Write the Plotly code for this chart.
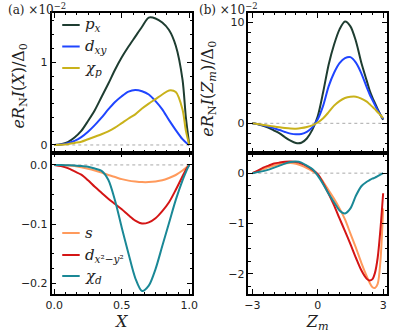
import plotly.graph_objects as go

# ---------------- data ----------------
# panel (a): current vs X (x 1e-2 for top row)
X = [0.0, 0.05, 0.10, 0.15, 0.20, 0.25, 0.30, 0.35, 0.40, 0.45, 0.50, 0.55,
     0.60, 0.65, 0.70, 0.75, 0.80, 0.85, 0.90, 0.95, 0.975, 1.0]

px_X = [0, 0.01, 0.035, 0.09, 0.17, 0.29, 0.42, 0.58, 0.74, 0.91, 1.06, 1.19,
        1.31, 1.43, 1.54, 1.53, 1.48, 1.39, 1.20, 0.79, 0.33, 0]
dxy_X = [0, 0.005, 0.02, 0.05, 0.095, 0.16, 0.24, 0.33, 0.43, 0.52, 0.59, 0.645,
         0.665, 0.65, 0.61, 0.53, 0.43, 0.30, 0.18, 0.07, 0.03, 0]
chip_X = [0, 0.003, 0.01, 0.025, 0.04, 0.07, 0.10, 0.13, 0.165, 0.21, 0.265, 0.32,
          0.37, 0.44, 0.50, 0.555, 0.61, 0.66, 0.64, 0.43, 0.17, 0]

s_X = [0, -0.0002, -0.001, -0.002, -0.004, -0.0065, -0.0095, -0.013, -0.017, -0.0205,
       -0.024, -0.0265, -0.028, -0.029, -0.029, -0.028, -0.026, -0.022, -0.017, -0.0095,
       -0.005, 0]
dx2y2_X = [0, -0.002, -0.0055, -0.011, -0.0165, -0.026, -0.037, -0.047, -0.057, -0.066,
           -0.075, -0.085, -0.094, -0.099, -0.097, -0.090, -0.078, -0.063, -0.042, -0.019,
           -0.008, 0]
chid_X = [0, 0, -0.0005, -0.001, -0.002, -0.003, -0.006, -0.010, -0.025, -0.060,
          -0.106, -0.150, -0.191, -0.213, -0.204, -0.176, -0.137, -0.098, -0.059, -0.026,
          -0.012, 0]

# panel (b): current vs Z_m (x 1e-2 for top row)
Zm = [-3.0, -2.75, -2.5, -2.25, -2.0, -1.75, -1.5, -1.25, -1.0, -0.75, -0.5, -0.25,
      0.0, 0.25, 0.5, 0.75, 1.0, 1.25, 1.5, 1.75, 2.0, 2.25, 2.375, 2.5, 2.625, 2.75,
      2.875, 3.0]

px_Z = [0, -0.1, -0.25, -0.45, -0.72, -1.0, -1.38, -1.72, -1.95, -1.92, -1.5, -0.65,
        0.7, 3.1, 5.8, 7.8, 9.3, 10.07, 9.6, 8.15, 6.0, 4.2, 3.3, 2.6, 2.0, 1.4,
        0.85, 0.35]
dxy_Z = [0, -0.08, -0.2, -0.33, -0.5, -0.67, -0.86, -1.02, -1.09, -1.05, -0.84, -0.4,
         0.4, 1.75, 3.65, 5.0, 5.95, 6.45, 6.55, 6.0, 4.95, 3.55, 2.9, 2.35, 1.8, 1.3,
         0.85, 0.42]
chip_Z = [0, -0.07, -0.16, -0.24, -0.32, -0.4, -0.47, -0.52, -0.53, -0.47, -0.36, -0.2,
          0.08, 0.5, 1.1, 1.75, 2.2, 2.5, 2.62, 2.63, 2.45, 2.15, 1.9, 1.65, 1.4, 1.1,
          0.82, 0.52]

s_Z = [0, 0.04, 0.08, 0.12, 0.15, 0.18, 0.195, 0.2, 0.185, 0.15, 0.1, 0.04,
       -0.03, -0.17, -0.34, -0.51, -0.7, -0.92, -1.2, -1.48, -1.78, -2.05, -2.17, -2.26,
       -2.28, -2.2, -1.75, -0.7]
dx2y2_Z = [0, 0.05, 0.11, 0.15, 0.19, 0.21, 0.225, 0.23, 0.22, 0.19, 0.14, 0.07,
           -0.02, -0.2, -0.41, -0.64, -0.9, -1.15, -1.41, -1.68, -1.93, -2.1, -2.13, -2.11,
           -1.98, -1.68, -1.12, -0.4]
chid_Z = [0, 0.02, 0.04, 0.07, 0.11, 0.15, 0.19, 0.22, 0.23, 0.21, 0.15, 0.08,
          -0.05, -0.22, -0.41, -0.58, -0.74, -0.8, -0.7, -0.45, -0.26, -0.17, -0.14, -0.11,
          -0.09, -0.06, -0.03, 0]

top_names = ["<i>p</i><sub><i>x</i></sub>", "<i>d</i><sub><i>xy</i></sub>",
             "<i>χ</i><sub><i>p</i></sub>"]
bot_names = ["<i>s</i>", "<i>d</i><sub><i>x</i>²−<i>y</i>²</sub>",
             "<i>χ</i><sub><i>d</i></sub>"]
top_colors = ["#1e3d31", "#1f45ff", "#c9b21b"]
bot_colors = ["#ff9a5c", "#d41515", "#1a8896"]

# tick labels
xt_a = [0, 0.5, 1.0]
xt_a_txt = ["0.0", "0.5", "1.0"]
xt_b = [-3, 0, 3]
xt_b_txt = ["−3", "0", "3"]
yt_a_top = [0, 1]
yt_a_top_txt = ["0", "1"]
yt_a_bot = [0, -0.1, -0.2]
yt_a_bot_txt = ["0.0", "−0.1", "−0.2"]
yt_b_top = [0, 10]
yt_b_top_txt = ["0", "10"]
yt_b_bot = [0, -1, -2]
yt_b_bot_txt = ["0", "−1", "−2"]

# ---------------- figure ----------------
W, H = 395, 335
def px(x):
    return x / W
def py(y):
    return 1 - y / H

fig = go.Figure()

def add_set(xs, ys_list, names, colors, xa, ya):
    # zero reference line
    fig.add_trace(go.Scatter(x=[xs[0], xs[-1]], y=[0, 0], mode="lines",
                             line=dict(color="#a8a8a8", width=1, dash="dot"),
                             xaxis=xa, yaxis=ya, showlegend=False, hoverinfo="skip"))
    for ys, nm, c in zip(ys_list, names, colors):
        fig.add_trace(go.Scatter(x=xs, y=ys, mode="lines", name=nm,
                                 line=dict(color=c, width=2, shape="spline", smoothing=0.8),
                                 xaxis=xa, yaxis=ya, showlegend=False))

add_set(X, [px_X, dxy_X, chip_X], top_names, top_colors, "x", "y")
add_set(X, [s_X, dx2y2_X, chid_X], bot_names, bot_colors, "x2", "y2")
add_set(Zm, [px_Z, dxy_Z, chip_Z], top_names, top_colors, "x3", "y3")
add_set(Zm, [s_Z, dx2y2_Z, chid_Z], bot_names, bot_colors, "x4", "y4")

tickfont = dict(family="DejaVu Sans", size=11, color="#222222")
serif = "DejaVu Serif"

def ax(domain, rng, tickvals, ticktext, minor_dtick, show_labels=True, **kw):
    d = dict(domain=domain, range=rng, showline=True, linecolor="black", linewidth=1.5,
             mirror="allticks", ticks="inside", ticklen=5, tickwidth=1, tickcolor="black",
             tickvals=tickvals, ticktext=ticktext, showticklabels=show_labels,
             showgrid=False, zeroline=False, tickfont=tickfont,
             minor=dict(ticks="inside", ticklen=2.5, tickwidth=0.8, tickcolor="black",
                        dtick=minor_dtick, tick0=0, showgrid=False))
    d.update(kw)
    return d

xa_dom = [px(47), px(191.8)]
xb_dom = [px(250), px(393)]
top_dom = [py(152.5), py(13)]
bot_dom = [py(294), py(152.5)]

fig.update_layout(
    width=W, height=H, margin=dict(l=0, r=0, t=0, b=0),
    paper_bgcolor="white", plot_bgcolor="white", showlegend=False,
    xaxis=ax(xa_dom, [-0.02, 1.02], xt_a, xt_a_txt, 1/12, False, anchor="y"),
    yaxis=ax(top_dom, [-0.091, 1.596], yt_a_top, yt_a_top_txt, 1/6, anchor="x"),
    xaxis2=ax(xa_dom, [-0.02, 1.02], xt_a, xt_a_txt, 1/12, True, anchor="y2",
              title=dict(text="<i>X</i>", font=dict(family=serif, size=16, color="#222"),
                         standoff=4)),
    yaxis2=ax(bot_dom, [-0.218, 0.021], yt_a_bot, yt_a_bot_txt, 0.025, anchor="x2"),
    xaxis3=ax(xb_dom, [-3.18, 3.18], xt_b, xt_b_txt, 0.5, False, anchor="y3"),
    yaxis3=ax(top_dom, [-2.89, 10.92], yt_b_top, yt_b_top_txt, 1, anchor="x3"),
    xaxis4=ax(xb_dom, [-3.18, 3.18], xt_b, xt_b_txt, 0.5, True, anchor="y4",
              title=dict(text="<i>Z<sub>m</sub></i>",
                         font=dict(family=serif, size=16, color="#222"), standoff=4)),
    yaxis4=ax(bot_dom, [-2.40, 0.41], yt_b_bot, yt_b_bot_txt, 0.25, anchor="x4"),
)

ann = []
shapes = []
# panel labels with scale factor
ann.append(dict(text="(a) ×10<sup>−2</sup>", x=px(0), y=py(9), xref="paper", yref="paper",
                xanchor="left", yanchor="middle", showarrow=False,
                font=dict(family=serif, size=12, color="#222")))
ann.append(dict(text="(b) ×10<sup>−2</sup>", x=px(197), y=py(9), xref="paper", yref="paper",
                xanchor="left", yanchor="middle", showarrow=False,
                font=dict(family=serif, size=12, color="#222")))
# y titles
ann.append(dict(text="<i>eR</i><sub>N</sub><i>I</i>(<i>X</i>)/Δ<sub>0</sub>",
                x=px(13), y=py(86), xref="paper", yref="paper", textangle=-90,
                xanchor="center", yanchor="middle", showarrow=False,
                font=dict(family=serif, size=16, color="#222")))
ann.append(dict(text="<i>eR</i><sub>N</sub><i>I</i>(<i>Z<sub>m</sub></i>)/Δ<sub>0</sub>",
                x=px(209), y=py(89), xref="paper", yref="paper", textangle=-90,
                xanchor="center", yanchor="middle", showarrow=False,
                font=dict(family=serif, size=16, color="#222")))

# custom legends
def legend(names, colors, rows):
    for nm, c, yy in zip(names, colors, rows):
        shapes.append(dict(type="line", xref="paper", yref="paper",
                           x0=px(58), x1=px(76), y0=py(yy), y1=py(yy),
                           line=dict(color=c, width=2)))
        ann.append(dict(text=nm, x=px(79), y=py(yy), xref="paper", yref="paper",
                        xanchor="left", yanchor="middle", showarrow=False,
                        font=dict(family=serif, size=15, color="#222")))

legend(top_names, top_colors, [25, 46.5, 68])
legend(bot_names, bot_colors, [233, 255, 276])

fig.update_layout(annotations=ann, shapes=shapes)
fig.write_html("out.html", config={"displayModeBar": False},
               post_script="document.body.style.margin='0';"
                           "document.body.style.overflow='hidden';")
